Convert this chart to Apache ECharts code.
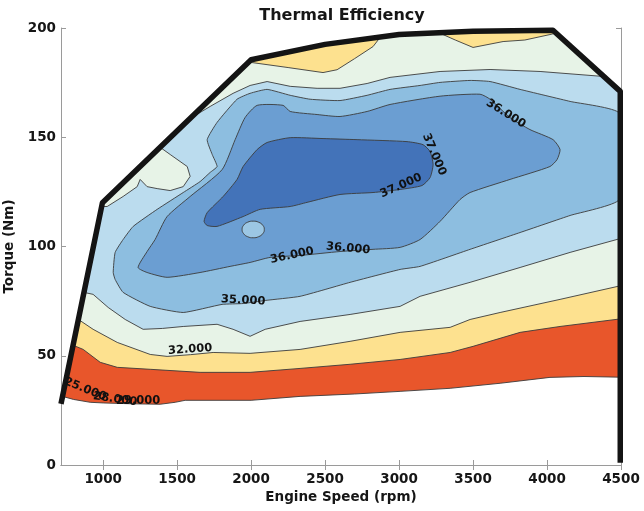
<!DOCTYPE html>
<html><head><meta charset="utf-8">
<script src="https://cdn.jsdelivr.net/npm/echarts@6/dist/echarts.min.js"></script>
<style>html,body{margin:0;padding:0;background:#fff}#c{width:644px;height:511px}</style>
</head><body><div id="c"></div>
<script>
// ---- axis ticks ----
const speedTicks = [1000,1500,2000,2500,3000,3500,4000,4500];
const torqueTicks = [0,50,100,150,200];

// ---- maximum torque envelope (rpm, Nm) ----
const envelope = [[715,28],[995,120],[2000,185.5],[2500,192.5],[3000,197],[3500,198.5],[4040,199],[4495,171],[4495,1]];

// ---- filled regions: efficiency >= level (rpm, Nm) ----
const regionBelow30 = [[725,31.4],[800,30],[912,28.7],[1000,28.4],[1200,28],[1385,27.8],[1487,28.7],[1554,29.6],[2000,29.6],[2331,31.4],[2700,32.5],[3007,33.7],[3345,35.1],[3683,37.4],[4020,40.1],[4250,40.5],[4488,40.2],[4488,171.4],[4040,199],[3500,198.5],[3000,197],[2500,192.5],[2000,185.5],[995,120]];
const region30 = [[797,54.8],[865,52.9],[980,47.0],[1095,44.7],[1318,43.8],[1655,42.4],[1993,42.4],[2331,44.2],[2669,46.1],[3007,48.3],[3345,51.5],[3500,54.3],[3818,60.7],[4088,63.4],[4488,66.8],[4488,171.4],[4040,199],[3500,198.5],[3000,197],[2500,192.5],[2000,185.5],[995,120]];
const region32 = [[833,66.6],[932,62.1],[1095,56.1],[1318,50.6],[1432,49.7],[1590,50.5],[1743,51.5],[1993,51.1],[2331,52.9],[2669,56.6],[3007,60.7],[3345,63.0],[3480,66.6],[3683,69.8],[4088,75.8],[4488,81.9],[4488,171.4],[4061,197.7],[4020,197.0],[3850,194.5],[3703,193.8],[3500,191.1],[3380,194.5],[3277,197.6],[3000,197],[2872,195.7],[2824,191.5],[2700,186.0],[2581,180.9],[2486,179.6],[2250,181.9],[1993,184.3],[995,120]];
const region34 = [[870,79.0],[932,78.1],[1034,72.1],[1149,66.6],[1270,62.1],[1400,62.5],[1541,63.4],[1770,64.4],[1878,62.1],[1993,58.9],[2095,62.1],[2331,65.7],[2669,68.9],[3007,72.6],[3142,77.2],[3480,83.6],[3818,90.4],[4156,97.3],[4488,103.5],[4488,171.4],[4385,177.8],[3953,180.1],[3615,181.0],[3277,180.1],[2939,177.4],[2784,174.6],[2601,172.4],[2446,172.4],[2264,173.3],[2108,175.5],[1993,173.7],[1878,170.1],[1723,164.1],[1588,158.6],[1385,145.4],[1453,142.1],[1568,136.6],[1588,132.1],[1541,127.4],[1453,125.6],[1365,126.5],[1297,127.4],[1250,130.7],[1230,127.4],[1135,122.9],[1027,118.3],[990,118.3]];
const region35 = [[4488,161.0],[4488,121.5],[4156,114.2],[3818,106.4],[3480,98.7],[3142,90.9],[3007,89.5],[2669,83.6],[2331,77.2],[2095,75.3],[1946,73.9],[1804,73.5],[1541,69.8],[1318,72.6],[1135,79.0],[1081,84.9],[1068,88.1],[1081,97.3],[1135,103.2],[1203,109.2],[1365,117.0],[1541,124.7],[1655,129.7],[1723,133.9],[1770,136.6],[1737,142.1],[1703,148.9],[1770,156.8],[1905,167.4],[1993,170.1],[2108,171.9],[2264,169.2],[2399,167.4],[2601,166.8],[2784,169.2],[2939,171.9],[3142,173.7],[3277,175.1],[3480,176.0],[3615,175.5],[3818,171.9],[4156,166.4]];
const region36 = [[3547,169.7],[3277,168.8],[2939,165.0],[2784,161.8],[2601,159.5],[2446,160.4],[2264,161.8],[2216,164.6],[2041,164.6],[1959,159.0],[1892,148.9],[1804,135.2],[1588,122.9],[1432,113.7],[1351,103.2],[1297,97.7],[1236,90.4],[1297,88.1],[1432,85.9],[1655,88.1],[1858,90.9],[1993,92.7],[2128,95.0],[2331,95.9],[2601,97.7],[2824,98.7],[3007,99.6],[3142,103.2],[3277,111.5],[3412,121.5],[3480,124.7],[3750,130.7],[4020,136.6],[4068,139.8],[4088,144.4],[4041,148.9],[3885,153.5],[3750,159.0],[3615,167.4]];
const islandBelow36 = [[2089,107.8],[2079,109.7],[2051,111.1],[2014,111.6],[1976,111.1],[1949,109.7],[1939,107.8],[1949,105.9],[1976,104.5],[2014,104.0],[2051,104.5],[2079,105.9]];
const region37 = [[2264,149.8],[2486,149.4],[2716,148.9],[3054,148.0],[3162,146.6],[3210,143.4],[3230,137.5],[3210,131.6],[3155,127.9],[3007,126.1],[2824,124.7],[2601,123.8],[2378,120.2],[2264,118.3],[2061,117.0],[1946,113.7],[1770,109.2],[1703,109.6],[1682,111.5],[1703,115.5],[1811,122.9],[1905,130.7],[1946,136.6],[2041,144.4],[2108,147.6]];

// ---- contour labels: text, rpm, Nm, angle ----
const labelText = ['36.000','37.000','37.000','36.000','36.000','35.000','32.000','25.000','28.000','29.000'];
const labelSpeed = [3722,3237,3014,2277,2655,1946,1588,878,1081,1236];
const labelTorque = [160.8,142.1,127.8,95.9,99.1,75.3,52.9,34.6,30.1,29.1];
const labelAngle = [-32,-67,24,12,-5,-3,4,-22,-8,0];

const bands = [
  {pts: regionBelow30, color: '#e8562b', smooth: 0},
  {pts: region30, color: '#fde18f', smooth: 0},
  {pts: region32, color: '#e7f3e7', smooth: 0},
  {pts: region34, color: '#bbdcee', smooth: 0},
  {pts: region35, color: '#8dbee0', smooth: 0.15},
  {pts: region36, color: '#6b9ed2', smooth: 0.2},
  {pts: islandBelow36, color: '#9cc7e4', smooth: 0.5},
  {pts: region37, color: '#4373b9', smooth: 0.2}
];

const chart = echarts.init(document.getElementById('c'), null, {renderer: 'canvas'});
const FONT = 'DejaVu Sans';
const gray = '#9a9a9a';
const ink = '#161616';
const option = {
  animation: false,
  backgroundColor: '#ffffff',
  title: {
    text: 'Thermal Efficiency', left: 342, top: 8, textAlign: 'center', padding: 0,
    textStyle: {fontFamily: FONT, fontSize: 16, fontWeight: 'bold', color: ink}
  },
  grid: {left: 61, top: 28, width: 560, height: 437, outerBoundsMode: 'none', containLabel: false},
  xAxis: [{
    type: 'value', min: 715, max: 4500, position: 'bottom',
    name: 'Engine Speed (rpm)', nameLocation: 'middle', nameGap: 24,
    nameTextStyle: {fontFamily: FONT, fontSize: 13.5, fontWeight: 'bold', color: ink},
    axisLine: {lineStyle: {color: gray, width: 1}},
    axisTick: {inside: true, length: 5, customValues: speedTicks, lineStyle: {color: gray}},
    axisLabel: {customValues: speedTicks, fontFamily: FONT, fontSize: 13.5, fontWeight: 'bold', color: ink, margin: 7,
      formatter: v => String(v)},
    splitLine: {show: false}
  }, {
    type: 'value', min: 715, max: 4500, position: 'top',
    axisLine: {lineStyle: {color: gray, width: 1}},
    axisTick: {inside: true, length: 5, customValues: speedTicks, lineStyle: {color: gray}},
    axisLabel: {show: false}, splitLine: {show: false}
  }],
  yAxis: [{
    type: 'value', min: 0, max: 200, interval: 50, position: 'left',
    name: 'Torque (Nm)', nameLocation: 'middle', nameGap: 32,
    nameTextStyle: {fontFamily: FONT, fontSize: 13.5, fontWeight: 'bold', color: ink},
    axisLine: {show: true, lineStyle: {color: gray, width: 1}},
    axisTick: {show: true, inside: true, length: 5, lineStyle: {color: gray}},
    axisLabel: {fontFamily: FONT, fontSize: 13.5, fontWeight: 'bold', color: ink, margin: 5,
      formatter: v => torqueTicks.includes(v) ? String(v) : ''},
    splitLine: {show: false}
  }, {
    type: 'value', min: 0, max: 200, interval: 50, position: 'right',
    axisLine: {show: true, lineStyle: {color: gray, width: 1}},
    axisTick: {show: true, inside: true, length: 5, lineStyle: {color: gray}},
    axisLabel: {show: false}, splitLine: {show: false}
  }],
  series: [{
    type: 'custom', xAxisIndex: 0, yAxisIndex: 0, clip: true, z: 2,
    data: bands.map(b => b.pts[0]),
    renderItem: function (params, api) {
      const b = bands[params.dataIndex];
      return {
        type: 'polygon',
        shape: {points: b.pts.map(p => api.coord(p)), smooth: b.smooth},
        style: {fill: b.color, stroke: '#3b3b3b', lineWidth: 0.9}
      };
    }
  }, {
    type: 'line', xAxisIndex: 0, yAxisIndex: 0, z: 5,
    data: envelope, symbol: 'none', smooth: false,
    lineStyle: {color: '#141414', width: 5.5, join: 'round'}
  }, {
    type: 'custom', xAxisIndex: 0, yAxisIndex: 0, z: 6,
    data: labelSpeed.map((s, i) => [s, labelTorque[i]]),
    renderItem: function (params, api) {
      const i = params.dataIndex;
      const p = api.coord([api.value(0), api.value(1)]);
      return {
        type: 'text', x: p[0], y: p[1], rotation: labelAngle[i] * Math.PI / 180,
        style: {text: labelText[i], x: 0, y: 0, align: 'center', verticalAlign: 'middle',
          fill: '#111', fontFamily: FONT, fontSize: 11.5, fontWeight: 'bold'}
      };
    }
  }]
};
chart.setOption(option);
</script>
</body></html>
